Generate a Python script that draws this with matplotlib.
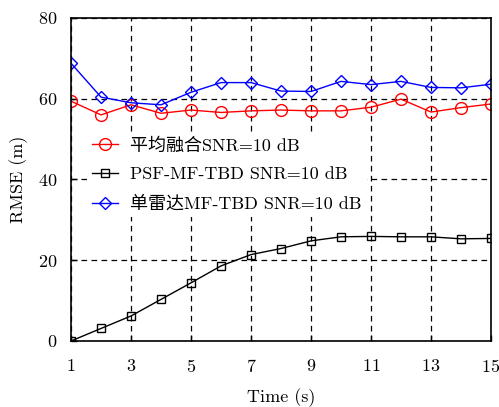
import matplotlib
matplotlib.use("Agg")
import matplotlib.pyplot as plt
import numpy as np

plt.rcParams['font.family'] = ['cmr10', 'Noto Sans CJK SC', 'DejaVu Sans']
plt.rcParams['mathtext.fontset'] = 'cm'
plt.rcParams['axes.formatter.use_mathtext'] = True
plt.rcParams['axes.unicode_minus'] = False

t = np.arange(1, 16)

# RMSE (m) for each method
rmse_avg = [59.4, 56.0, 58.5, 56.4, 57.2, 56.6, 57.0, 57.2, 57.0, 57.0, 57.9, 59.9, 56.7, 57.8, 58.7]
rmse_psf = [0.0, 3.1, 6.2, 10.3, 14.4, 18.6, 21.4, 22.9, 24.8, 25.8, 25.9, 25.8, 25.8, 25.3, 25.4]
rmse_single = [68.8, 60.4, 59.0, 58.5, 61.6, 64.0, 64.0, 61.9, 61.8, 64.3, 63.5, 64.3, 62.8, 62.7, 63.6]

labels = ['平均融合SNR=10 dB', 'PSF-MF-TBD SNR=10 dB', '单雷达MF-TBD SNR=10 dB']

xticks = [1, 3, 5, 7, 9, 11, 13, 15]
yticks = [0, 20, 40, 60, 80]

fs = 13

fig = plt.figure(figsize=(4.99, 4.07), dpi=100)
ax = fig.add_axes([0.1423, 0.1622, 0.8417, 0.7936])

ax.plot(t, rmse_avg, color='red', lw=1.0, marker='o', ms=8.5,
        mfc='none', mec='red', mew=1.0, label=labels[0])
ax.plot(t, rmse_psf, color='black', lw=1.0, marker='s', ms=6,
        mfc='none', mec='black', mew=1.0, label=labels[1])
ax.plot(t, rmse_single, color='blue', lw=1.0, marker='D', ms=6.5,
        mfc='none', mec='blue', mew=1.0, label=labels[2])

ax.set_xlim(1, 15)
ax.set_ylim(0, 80)
ax.set_xticks(xticks)
ax.set_yticks(yticks)
ax.tick_params(direction='in', length=4, width=1.0, labelsize=fs)
ax.tick_params(axis='x', pad=12)
ax.tick_params(axis='y', pad=10)
ax.grid(True, color='black', linestyle=(0, (4.5, 3.5)), linewidth=0.9)
ax.set_axisbelow(True)
for s in ax.spines.values():
    s.set_linewidth(1.2)

ax.set_xlabel('Time (s)', fontsize=fs, labelpad=10)
ax.set_ylabel('RMSE (m)', fontsize=fs, labelpad=7)

leg = ax.legend(loc='upper left', bbox_to_anchor=(0.016, 0.675), frameon=True,
                fancybox=False, edgecolor='none', framealpha=1.0,
                fontsize=fs, handlelength=1.45, handletextpad=0.65,
                labelspacing=0.72, borderpad=0.3)

fig.savefig('out.png', dpi=100)
